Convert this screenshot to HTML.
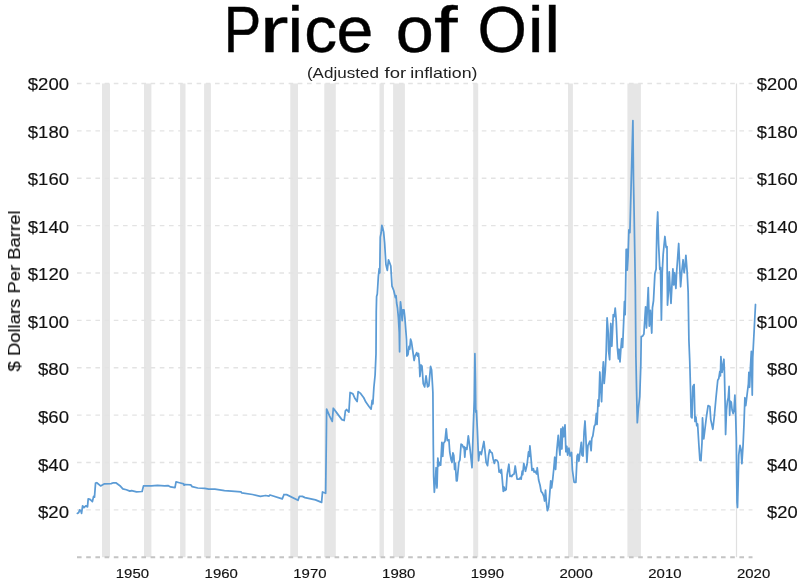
<!DOCTYPE html>
<html><head><meta charset="utf-8"><title>Price of Oil</title>
<style>
html,body{margin:0;padding:0;background:#fff;}
body{width:800px;height:583px;overflow:hidden;font-family:"Liberation Sans",sans-serif;}
svg{display:block;will-change:transform;filter:blur(0.4px);}
text{font-family:"Liberation Sans",sans-serif;fill:#111;stroke:#111;stroke-width:.15px;}
text.s{fill:#222;stroke:none;}
text.h{fill:#000;stroke:#000;stroke-width:.4px;}
g.t{filter:grayscale(1);}
</style></head><body>
<svg width="800" height="583" viewBox="0 0 800 583">
<rect width="800" height="583" fill="#fff"/>
<g fill="#e6e6e6">
<rect x="102.0" y="83.5" width="8.0" height="473.7"/>
<rect x="144.0" y="83.5" width="7.4" height="473.7"/>
<rect x="180.1" y="83.5" width="5.4" height="473.7"/>
<rect x="204.1" y="83.5" width="6.8" height="473.7"/>
<rect x="290.3" y="83.5" width="7.7" height="473.7"/>
<rect x="324.3" y="83.5" width="11.5" height="473.7"/>
<rect x="379.5" y="83.5" width="4.4" height="473.7"/>
<rect x="393.1" y="83.5" width="11.8" height="473.7"/>
<rect x="473.2" y="83.5" width="5.0" height="473.7"/>
<rect x="568.0" y="83.5" width="4.9" height="473.7"/>
<rect x="627.4" y="83.5" width="13.5" height="473.7"/>
</g>
<rect x="735.9" y="83.5" width="1.2" height="473.7" fill="#e0e0e0"/>
<g stroke="#e3e3e3" stroke-width="1.4" stroke-dasharray="4.6 4.6" fill="none">
<path d="M77 83.5H752.5"/>
<path d="M77 130.9H752.5"/>
<path d="M77 178.2H752.5"/>
<path d="M77 225.6H752.5"/>
<path d="M77 273.0H752.5"/>
<path d="M77 320.4H752.5"/>
<path d="M77 367.8H752.5"/>
<path d="M77 415.1H752.5"/>
<path d="M77 462.5H752.5"/>
<path d="M77 509.9H752.5"/>
</g>
<path d="M77 557.25H752.5" stroke="#c4c4c4" stroke-width="1.8" stroke-dasharray="4.6 4.6" fill="none"/>
<polyline fill="none" stroke="#5b9bd5" stroke-width="1.75" stroke-linejoin="round" stroke-linecap="round" points="77.35,513.4 78.75,512.5 79.6,509.9 80.85,510.75 81.55,513.4 82.6,505.85 84,507.6 85.75,505.85 87.5,506.9 88.2,498.85 90.1,499.4 92.4,501.65 93.6,496.4 94.5,497.1 95.55,483.1 96.8,482.75 100.6,485.9 104.5,483.8 111.1,483.6 113.4,482.75 115.85,482.75 119.9,485.7 122.85,488.9 126.35,489.75 129.85,491.15 131.6,490.6 136.5,491.85 142.1,491.5 143.5,485.9 151.4,485.9 157.5,485.4 164.5,485.9 168,485.55 170.6,486.95 175,487.65 176.05,481.9 179.4,482.75 183.75,483.8 184.1,485.2 185.5,484.5 190.75,484.85 192.15,486.6 197.75,488 204.75,488.35 208.75,489.2 214.9,489.2 224.5,490.6 231.5,491.15 241.1,491.85 241.65,492.9 252.5,494.5 260.4,496.4 265.6,495.5 269.1,496.05 270,495 282.25,498.85 284,494.5 286.6,494.65 298,500.25 299.4,496.4 302.4,496.4 305,497.6 315.5,499.9 321.6,502.35 322.5,492 325.65,493.25 326.3,442 326.65,409.1 329.6,416.1 332.25,421.4 333.3,408.25 336.6,412.6 339.25,416.1 341.9,419.6 344.15,420.5 345.4,410.9 346.6,409.5 348.9,412.1 350.1,392.5 352.9,393.9 355,398.6 357.1,401.6 358.15,391.6 360.6,393.4 363.75,397.75 365.85,402.1 369,406.5 371.1,409.1 372.15,400.4 372.85,403.9 373.9,387.25 375.1,375 376,354 376.25,312 376.6,296.6 377.3,294 378.35,276.5 379.2,268.6 379.75,273 380.3,237.1 381.15,232.75 381.85,225.4 382.55,227.5 383.6,231.9 384.65,243.25 385.9,264.25 387.3,270.4 388.5,259.9 389.55,262.5 390.8,266 392,286.1 393.75,290.5 395.4,297.5 396.1,295.75 396.6,302.75 397.5,308 398.4,317.6 399.25,332.5 399.6,351.75 399.95,315 400.5,301.9 401,306.25 402.2,320.6 402.9,309.75 404,309.75 404.85,317.6 406.25,336 406.5,340 406.9,356 408,354.4 409,346.5 409.75,349.1 410.6,339.15 411.5,342.1 412.9,351.75 414.1,360.5 415,356.1 416.75,352.6 417.6,356.1 418.5,353.5 419.4,364 419.9,376.5 421.1,365 422,366 423.25,383.75 424.65,386.9 426.05,375.9 427.6,386.9 428.85,385.85 430.6,366.4 431.6,370 432.5,385 432.9,392.5 433.3,445 433.65,476.5 434.35,492.25 435.4,480 436.1,467.75 437,487.9 437.85,458.1 438.7,466 439.6,462.5 440.65,465.1 441.9,442.4 442.75,456.4 443.6,443.25 445,441.15 446.25,428.9 447.3,440.6 448.9,439.75 449.75,452 451.15,459.9 452,462.5 452.9,452.9 453.8,455.5 454.65,469.5 455.35,463.4 456.4,480.9 457.1,480.9 458.85,462.5 459.9,459.9 461.1,444.1 462.35,445 463.4,447.6 464.1,446.75 464.8,457.25 465.5,447.6 466.9,449.4 468.3,435.9 469.9,447.6 472,467.75 473.4,424 474.3,400 474.9,353.7 475.4,380 475.8,412 476.4,410.5 477.4,431 478.6,460.75 479.5,452 480.9,452 481.25,454.6 483.9,441.5 485.1,452 486.15,462.5 487.55,465.65 488.6,455.5 489.65,449.9 490.7,452 492.1,452.9 493.15,459 494.4,463.4 495.25,459.9 497,460.4 498.2,462.5 499.1,472.1 500.15,470.4 500.85,473 501.4,469.5 503.3,491.4 504,487 504.9,490.5 506.1,489.6 507.15,474.75 508.9,464.25 509.95,476.5 511,475.6 511.7,476.5 512.75,474.75 514.15,473.9 515.2,466 517.1,479.1 519.4,479.1 520.45,477.4 521.15,479.1 522.2,471.25 522.7,474.75 523.8,463.4 525.5,471.25 527.1,464.25 528.5,452 529.2,456.4 529.9,445.9 530.8,455.5 532,470.4 533.4,468.6 534.1,472.1 535.15,471.25 536.55,473.9 537.25,467.75 538.65,480 540.05,485.25 541.1,491.4 542.5,493.1 543.9,496.6 544.6,501 545.5,490.15 546.35,501.9 547.4,510.6 548.6,507.1 549.5,496.6 550.75,480.9 551.6,487.9 552.65,480 553.9,467.75 554.75,457.25 555.6,469.5 556.85,450.25 558.25,435.4 558.9,444.6 559.95,455.1 561,428.9 561.9,449 562.75,427.1 563.8,436.75 565,424.85 565.9,451.6 566.8,446.4 567.65,455.1 568.9,448.1 570.1,456 571.5,452.5 572.4,470 574.1,482.25 575.9,482.25 577.1,456 578,454.25 578.85,461.25 580.25,450.75 581.3,442.35 582,455.1 583.05,456 584.1,431.5 585,421 585.85,436.75 586.9,462.1 587.95,445.5 589.9,441.1 591.1,450.75 591.8,438.5 592.85,435.9 594.25,426.25 595.3,424.5 596.35,413.5 597.05,424.5 598.1,400 598.8,406.1 599.85,372 600.55,386 601.6,401.75 602.5,375.5 603.35,361.85 604.2,383.4 605.3,370.25 606.15,352.75 607.1,317.9 608.35,334 608.6,351 609.65,359.75 610.8,323.5 611.85,346.25 613.25,314.75 614.3,316.5 615.2,308.1 616.2,320 617.35,347.5 618.4,358.9 619.1,349.25 620,361.85 620.85,349.25 621.7,338.75 622.6,347.5 623.75,320 624.45,301.6 625.15,314.75 625.85,272.75 626.2,249.25 627.1,249.25 627.25,270.1 628.1,256.1 628.85,230 629.9,232.6 631.1,186.25 632.9,120.6 633.5,180 634.1,212.5 635.3,285 635.9,356.25 636.6,391.25 637.3,422.75 638.35,408.75 639.75,396.5 640.8,365 641.25,336.6 642.65,336.1 643.9,334 644.75,320 645.6,306.9 646.5,327.9 647.4,306 648.25,287.6 649.3,326.1 650.35,310.4 651.75,333.1 652.45,307.75 653.5,300.75 654.9,273.6 656.1,269.25 656.85,230 657.7,212 658.6,244 659.8,269.25 660.5,267.5 661.4,320 662.25,272.75 663.15,254.5 664.9,236.5 666.1,247.5 667,246.6 667.5,305.1 668.4,292 669.25,271.9 670.1,288.5 671,303.4 672.05,283.25 672.9,268.9 673.8,285 674.5,272.75 675.9,288.5 676.6,272.75 678.7,243.5 680.6,286.75 681.85,271 683.1,259.75 684.1,272.75 685,266.6 685.9,255.4 687.1,271 688.15,292 688.9,340 689.75,361 690.6,392.5 691.15,417 692,417.9 692.9,386.4 694.1,384.6 695,421.4 695.9,417 696.75,425.75 697.6,424 698.85,444.5 699.9,460.25 700.95,460.6 702,442.75 702.5,417.9 703.75,438.9 705.15,427.5 706.4,417 708.1,405.6 709.9,406.5 710.75,419.6 712.85,429.25 714.25,417 716,397.75 717.75,380.25 718.8,378.5 719.85,371.5 720.4,375.9 720.9,356.6 722.1,372.4 723,366.25 723.9,359.25 724.4,371.5 725.1,403 725.6,434.5 726.5,410 727.4,401.25 728.25,397.75 729.1,386.4 729.65,415.25 730.35,401.25 731.25,402.1 732.1,410 733.15,413.5 734,410 734.9,395.1 735.6,413.5 736.3,437.5 736.65,472.5 737,502.25 737.5,507.5 738.2,481.25 738.75,455 740,445.4 741,449.75 741.9,463.75 743.1,444.5 744,424 744.9,397.75 745.75,405.6 746.6,398.6 748.4,383.75 748.9,372.4 749.6,387.25 750.5,366.25 751.35,351.4 752.25,395.1 752.75,357.5 755.5,304.5"/>
<g class="t">
<text class="h" y="51.9" font-size="65.7"><tspan x="223.69" textLength="37.47" lengthAdjust="spacingAndGlyphs">P</tspan><tspan x="259.66" textLength="28.77" lengthAdjust="spacingAndGlyphs">r</tspan><tspan x="287.48" textLength="15.67" lengthAdjust="spacingAndGlyphs">i</tspan><tspan x="304.31" textLength="32.82" lengthAdjust="spacingAndGlyphs">c</tspan><tspan x="336.48" textLength="36.86" lengthAdjust="spacingAndGlyphs">e</tspan> <tspan x="395.83" textLength="38.05" lengthAdjust="spacingAndGlyphs">o</tspan><tspan x="434.10" textLength="23.58" lengthAdjust="spacingAndGlyphs">f</tspan> <tspan x="477.50" textLength="49.34" lengthAdjust="spacingAndGlyphs">O</tspan><tspan x="527.71" textLength="15.92" lengthAdjust="spacingAndGlyphs">i</tspan><tspan x="544.27" textLength="15.92" lengthAdjust="spacingAndGlyphs">l</tspan></text>
<text class="s" y="77.6" font-size="14.5"><tspan x="306.9" textLength="72" lengthAdjust="spacingAndGlyphs">(Adjusted</tspan> <tspan x="384.6" textLength="21.6" lengthAdjust="spacingAndGlyphs">for</tspan> <tspan x="410.3" textLength="67.2" lengthAdjust="spacingAndGlyphs">inflation)</tspan></text>
<text x="27.8" y="90.1" font-size="17.2" textLength="41.2" lengthAdjust="spacingAndGlyphs">$200</text>
<text x="756.8" y="90.1" font-size="17.2" textLength="40.8" lengthAdjust="spacingAndGlyphs">$200</text>
<text x="27.8" y="137.6" font-size="17.2" textLength="41.2" lengthAdjust="spacingAndGlyphs">$180</text>
<text x="756.8" y="137.6" font-size="17.2" textLength="40.8" lengthAdjust="spacingAndGlyphs">$180</text>
<text x="27.8" y="185.2" font-size="17.2" textLength="41.2" lengthAdjust="spacingAndGlyphs">$160</text>
<text x="756.8" y="185.2" font-size="17.2" textLength="40.8" lengthAdjust="spacingAndGlyphs">$160</text>
<text x="27.8" y="232.7" font-size="17.2" textLength="41.2" lengthAdjust="spacingAndGlyphs">$140</text>
<text x="756.8" y="232.7" font-size="17.2" textLength="40.8" lengthAdjust="spacingAndGlyphs">$140</text>
<text x="27.8" y="280.3" font-size="17.2" textLength="41.2" lengthAdjust="spacingAndGlyphs">$120</text>
<text x="756.8" y="280.3" font-size="17.2" textLength="40.8" lengthAdjust="spacingAndGlyphs">$120</text>
<text x="27.8" y="327.9" font-size="17.2" textLength="41.2" lengthAdjust="spacingAndGlyphs">$100</text>
<text x="756.8" y="327.9" font-size="17.2" textLength="40.8" lengthAdjust="spacingAndGlyphs">$100</text>
<text x="38.0" y="375.4" font-size="17.2" textLength="31.0" lengthAdjust="spacingAndGlyphs">$80</text>
<text x="767.0" y="375.4" font-size="17.2" textLength="30.6" lengthAdjust="spacingAndGlyphs">$80</text>
<text x="38.0" y="422.9" font-size="17.2" textLength="31.0" lengthAdjust="spacingAndGlyphs">$60</text>
<text x="767.0" y="422.9" font-size="17.2" textLength="30.6" lengthAdjust="spacingAndGlyphs">$60</text>
<text x="38.0" y="470.5" font-size="17.2" textLength="31.0" lengthAdjust="spacingAndGlyphs">$40</text>
<text x="767.0" y="470.5" font-size="17.2" textLength="30.6" lengthAdjust="spacingAndGlyphs">$40</text>
<text x="38.0" y="518.0" font-size="17.2" textLength="31.0" lengthAdjust="spacingAndGlyphs">$20</text>
<text x="767.0" y="518.0" font-size="17.2" textLength="30.6" lengthAdjust="spacingAndGlyphs">$20</text>
<text x="115.8" y="578.4" font-size="13.6" textLength="33.2" lengthAdjust="spacingAndGlyphs">1950</text>
<text x="204.6" y="578.4" font-size="13.6" textLength="33.2" lengthAdjust="spacingAndGlyphs">1960</text>
<text x="293.3" y="578.4" font-size="13.6" textLength="33.2" lengthAdjust="spacingAndGlyphs">1970</text>
<text x="382.1" y="578.4" font-size="13.6" textLength="33.2" lengthAdjust="spacingAndGlyphs">1980</text>
<text x="470.8" y="578.4" font-size="13.6" textLength="33.2" lengthAdjust="spacingAndGlyphs">1990</text>
<text x="559.5" y="578.4" font-size="13.6" textLength="33.2" lengthAdjust="spacingAndGlyphs">2000</text>
<text x="648.3" y="578.4" font-size="13.6" textLength="33.2" lengthAdjust="spacingAndGlyphs">2010</text>
<text x="737.0" y="578.4" font-size="13.6" textLength="33.2" lengthAdjust="spacingAndGlyphs">2020</text>
<text transform="translate(20 371.5) rotate(-90)" font-size="16.2" textLength="161" lengthAdjust="spacingAndGlyphs">$ Dollars Per Barrel</text>
</g>
</svg></body></html>
